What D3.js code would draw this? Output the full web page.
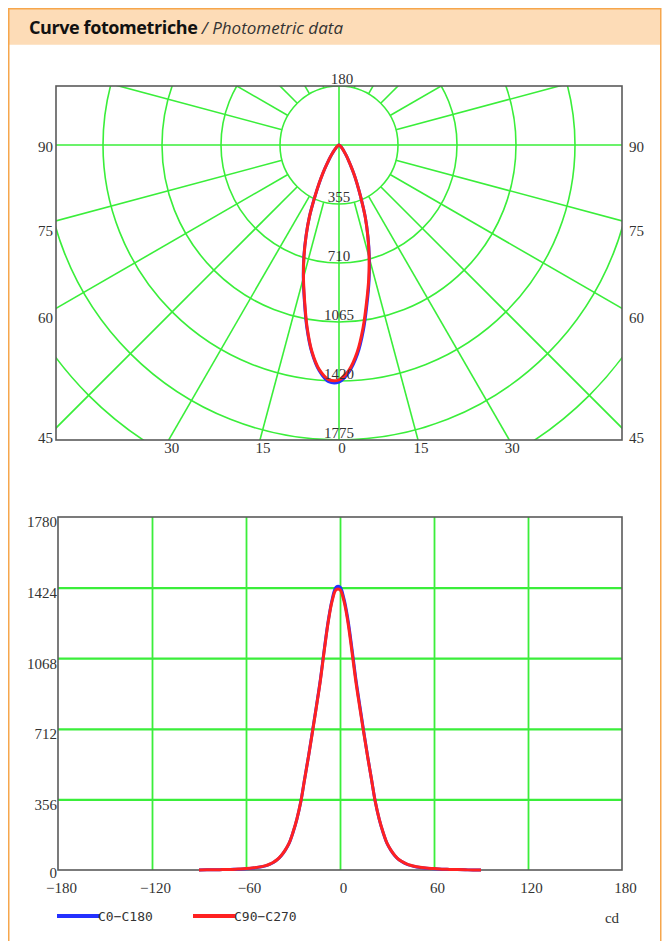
<!DOCTYPE html>
<html>
<head>
<meta charset="utf-8">
<script src="https://cdn.jsdelivr.net/npm/d3@7"></script>
<style>
  body { margin: 0; background: #fff; }
  svg { display: block; }
  .lbl { font-family: "Liberation Serif", serif; font-size: 15px; fill: #333; }
</style>
</head>
<body>
<script>
// measured angles (deg) and intensities (cd)
let angles = [-90, -85, -80, -75, -70, -65, -60, -55,
  -50, -47.5, -45, -42.5, -40, -37.5, -35, -32.5, -30, -27.5, -25, -22.5, -20, -17.5, -15, -12.5, -10, -7.5, -5, -2.5,
  0, 2.5, 5, 7.5, 10, 12.5, 15, 17.5, 20, 22.5, 25, 27.5, 30, 32.5, 35, 37.5, 40, 42.5, 45, 47.5, 50,
  55, 60, 65, 70, 75, 80, 85, 90];
let c0c180 = [0, 1, 1, 2, 3, 4, 6, 10,
  16, 21, 28, 38, 52, 72, 99, 134, 189, 257, 345, 463, 579, 703, 830, 962, 1115, 1257, 1364, 1426,
  1427, 1368, 1266, 1124, 970, 836, 706, 580, 463, 345, 257, 189, 134, 99, 72, 52, 40, 30, 23, 18, 14,
  9, 6, 4, 3, 2, 1, 0, 0];
let c90c270 = [0, 1, 1, 2, 3, 5, 7, 11,
  17, 22, 29, 39, 53, 73, 100, 135, 190, 258, 345, 462, 577, 700, 826, 957, 1109, 1252, 1357, 1413,
  1413, 1357, 1252, 1109, 957, 826, 700, 577, 462, 345, 258, 190, 135, 100, 73, 53, 41, 31, 24, 19, 15,
  10, 7, 4, 3, 2, 1, 0, 0];

let seriesNames = ['C0\u2212C180', 'C90\u2212C270'];
let seriesColors = ['#2431ff', '#ff2121'];

// polar grid
let ringValues = [355, 710, 1065, 1420, 1775, 2130];
let ringLabels = [355, 710, 1065, 1420, 1775];
let sideTicks = [90, 75, 60, 45];
let bottomTicks = [-30, -15, 0, 15, 30];

// cartesian grid
let xTicks = [-180, -120, -60, 0, 60, 120, 180];
let yTicks = [0, 356, 712, 1068, 1424, 1780];

let width = 669, height = 941;
let green = '#3aee3a';
let frame = '#5a5a5a';

let svg = d3.select('body').append('svg')
  .attr('width', width)
  .attr('height', height);

let series = [c0c180, c90c270].map((vals, i) => ({
  name: seriesNames[i],
  color: seriesColors[i],
  points: angles.map((a, j) => ({a: a, v: vals[j]}))
}));

// ---- page frame + header
svg.append('rect')
  .attr('x', 8.75).attr('y', 8.75)
  .attr('width', 652).attr('height', 36)
  .attr('fill', '#fddcb7');
svg.append('rect')
  .attr('x', 8.75).attr('y', 8.75)
  .attr('width', 652).attr('height', 960)
  .attr('fill', 'none')
  .attr('stroke', '#f6a64c')
  .attr('stroke-width', 1.5);

let title = svg.append('text')
  .attr('x', 29).attr('y', 34)
  .style('font-family', '"Open Sans", sans-serif')
  .attr('fill', '#111');
title.append('tspan').attr('font-weight', 700).style('font-size', '18px').attr('letter-spacing', -0.4).text('Curve fotometriche');
title.append('tspan').attr('font-style', 'italic').style('font-size', '17px').attr('fill', '#333').text(' / Photometric data');

// ---- polar chart
let box = {x0: 56, x1: 622, y0: 86, y1: 440};
let cx = 339, cy = 145;
let r = d3.scaleLinear().domain([0, 1775]).range([0, 295]);
let rad = (deg) => deg * Math.PI / 180;

svg.append('clipPath').attr('id', 'polarClip')
  .append('rect')
  .attr('x', box.x0).attr('y', box.y0)
  .attr('width', box.x1 - box.x0).attr('height', box.y1 - box.y0);

let polar = svg.append('g');
let pgrid = polar.append('g')
  .attr('clip-path', 'url(#polarClip)')
  .attr('stroke', green)
  .attr('stroke-width', 1.6)
  .attr('fill', 'none');

pgrid.selectAll('circle').data(ringValues).join('circle')
  .attr('cx', cx).attr('cy', cy)
  .attr('r', d => r(d));

// spokes every 15 deg, starting at the first ring
let spokes = d3.range(0, 360, 15).filter(a => a % 90 !== 0);
pgrid.selectAll('.spoke').data(spokes).join('line')
  .attr('class', 'spoke')
  .attr('x1', a => cx + r(355) * Math.sin(rad(a)))
  .attr('y1', a => cy + r(355) * Math.cos(rad(a)))
  .attr('x2', a => cx + 700 * Math.sin(rad(a)))
  .attr('y2', a => cy + 700 * Math.cos(rad(a)));

pgrid.append('line').attr('x1', box.x0).attr('x2', box.x1).attr('y1', cy).attr('y2', cy);
pgrid.append('line').attr('x1', cx).attr('x2', cx).attr('y1', box.y0).attr('y2', box.y1);

polar.append('rect')
  .attr('x', box.x0).attr('y', box.y0)
  .attr('width', box.x1 - box.x0).attr('height', box.y1 - box.y0)
  .attr('fill', 'none')
  .attr('stroke', frame)
  .attr('stroke-width', 1.6);

let radialLine = d3.lineRadial()
  .angle(d => Math.PI - rad(d.a))
  .radius(d => r(d.v))
  .curve(d3.curveCatmullRom);

polar.append('g').attr('transform', `translate(${cx},${cy})`)
  .selectAll('path').data(series).join('path')
  .attr('d', s => radialLine(s.points))
  .attr('fill', 'none')
  .attr('stroke', s => s.color)
  .attr('stroke-width', 3)
  .attr('stroke-linejoin', 'round');

polar.append('text').attr('class', 'lbl')
  .attr('x', cx + 3).attr('y', box.y0 - 2)
  .attr('text-anchor', 'middle')
  .text('180');

polar.selectAll('.rlbl').data(ringLabels).join('text')
  .attr('class', 'lbl rlbl')
  .attr('x', cx)
  .attr('y', d => cy + r(d) - 2)
  .attr('text-anchor', 'middle')
  .text(d => d);

let sideY = (a) => a === 90 ? cy + 2 : cy + (cx - box.x0) / Math.tan(rad(a)) + 9.5;
polar.selectAll('.sl').data(sideTicks).join('text')
  .attr('class', 'lbl sl')
  .attr('x', box.x0 - 3)
  .attr('y', sideY)
  .attr('dy', '0.35em')
  .attr('text-anchor', 'end')
  .text(d => d);
polar.selectAll('.sr').data(sideTicks).join('text')
  .attr('class', 'lbl sr')
  .attr('x', box.x1 + 7)
  .attr('y', sideY)
  .attr('dy', '0.35em')
  .text(d => d);

polar.selectAll('.bl').data(bottomTicks).join('text')
  .attr('class', 'lbl bl')
  .attr('x', a => cx + (box.y1 - cy) * Math.tan(rad(a)) + 3)
  .attr('y', 448)
  .attr('dy', '0.35em')
  .attr('text-anchor', 'middle')
  .text(a => Math.abs(a));

// ---- cartesian chart
let plotL = 58, plotR = 622, plotT = 517, plotB = 870;
let x = d3.scaleLinear().domain([-180, 180]).range([plotL, plotR]);
let y = d3.scaleLinear().domain([0, 1780]).range([plotB, plotT]);

let cart = svg.append('g');

cart.append('g')
  .attr('transform', `translate(0,${plotB})`)
  .call(d3.axisBottom(x).tickValues(xTicks.slice(1, -1)).tickSize(-(plotB - plotT)).tickFormat(''))
  .call(g => g.select('.domain').remove())
  .call(g => g.selectAll('line').attr('stroke', green).attr('stroke-width', 1.8));

cart.append('g')
  .attr('transform', `translate(${plotL},0)`)
  .call(d3.axisLeft(y).tickValues(yTicks.slice(1, -1)).tickSize(-(plotR - plotL)).tickFormat(''))
  .call(g => g.select('.domain').remove())
  .call(g => g.selectAll('line').attr('stroke', green).attr('stroke-width', 2.2));

cart.append('rect')
  .attr('x', plotL).attr('y', plotT)
  .attr('width', plotR - plotL).attr('height', plotB - plotT)
  .attr('fill', 'none')
  .attr('stroke', frame)
  .attr('stroke-width', 1.6);

let line = d3.line()
  .x(d => x(d.a))
  .y(d => y(d.v))
  .curve(d3.curveCatmullRom);

cart.append('g').selectAll('path').data(series).join('path')
  .attr('d', s => line(s.points))
  .attr('fill', 'none')
  .attr('stroke', s => s.color)
  .attr('stroke-width', 3)
  .attr('stroke-linejoin', 'round');

cart.append('g')
  .attr('transform', `translate(0,${plotB})`)
  .call(d3.axisBottom(x).tickValues(xTicks).tickSize(0).tickPadding(12)
    .tickFormat(d => d < 0 ? '\u2212' + Math.abs(d) : d))
  .call(g => g.select('.domain').remove())
  .call(g => g.selectAll('text').attr('class', 'lbl').attr('x', 3).attr('fill', null));

cart.append('g')
  .attr('transform', `translate(${plotL},0)`)
  .call(d3.axisLeft(y).tickValues(yTicks).tickSize(0).tickPadding(1).tickFormat(d3.format('d')))
  .call(g => g.select('.domain').remove())
  .call(g => g.selectAll('text').attr('class', 'lbl').attr('y', d => d === 0 ? 3 : 5).attr('fill', null));

// ---- legend
let legendX = [57, 193];
let legend = svg.append('g').selectAll('g').data(series).join('g')
  .attr('transform', (s, i) => `translate(${legendX[i]},916)`);
legend.append('line')
  .attr('x1', 0).attr('x2', 43)
  .attr('stroke', s => s.color)
  .attr('stroke-width', 4);
legend.append('text')
  .attr('x', 41)
  .attr('dy', '0.35em')
  .style('font-family', '"DejaVu Sans Mono", monospace')
  .style('font-size', '13px')
  .attr('fill', '#333')
  .text(s => s.name);

svg.append('text').attr('class', 'lbl')
  .attr('x', 612).attr('y', 918)
  .attr('dy', '0.35em')
  .attr('text-anchor', 'middle')
  .text('cd');
</script>
</body>
</html>
